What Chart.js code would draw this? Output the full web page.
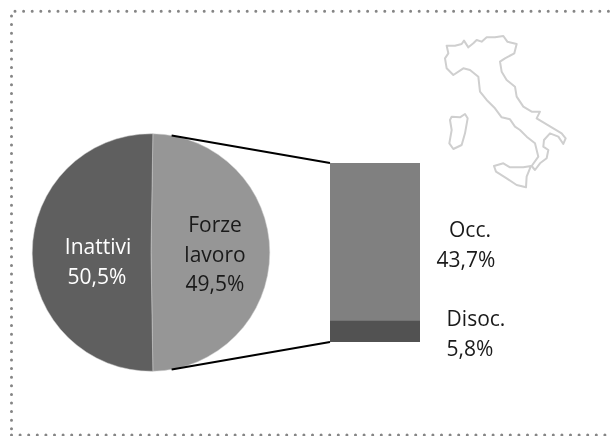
<!DOCTYPE html>
<html><head><meta charset="utf-8">
<script src="https://cdn.jsdelivr.net/npm/chart.js@4"></script>
<style>
html,body{margin:0;padding:0;background:#fff;overflow:hidden}
#wrap{position:relative;width:613px;height:436px}
#wrap canvas,#wrap svg{position:absolute;left:0;top:0}
</style></head><body>
<div id="wrap">
<svg width="613" height="436" viewBox="0 0 613 436">
<defs><filter id="soft"><feGaussianBlur stdDeviation="0.7"/></filter></defs>
<path d="M11.5 16 V435 M11.5 435 H613 M15 11.3 H613" fill="none" stroke="#858585" stroke-width="3" stroke-linecap="round" stroke-dasharray="0 8.6"/>
<g fill="none" stroke="#cfcfcf" stroke-linejoin="round" filter="url(#soft)" transform="translate(420 30) scale(.3333)">
<path d="M80 47 105 47 125 42 132 32 145 52 160 40 170 30 185 35 200 22 225 22 250 18 262 35 290 42 283 70 255 85 240 95 245 125 260 150 285 170 290 200 310 230 335 245 360 245 350 265 400 295 425 310 437 325 430 342 415 320 390 310 372 330 370 350 385 360 380 385 360 400 345 420 335 408 355 380 345 340 320 320 300 300 285 290 270 268 245 262 225 235 200 210 180 185 175 140 150 120 130 115 100 135 80 115 75 85 85 70Z" stroke-width="6"/>
<path d="M95 260 120 262 135 252 143 265 135 310 125 345 100 357 88 340 95 300 90 270Z" stroke-width="6"/>
<path d="M222 408 250 400 270 412 310 412 333 408 320 440 318 472 290 465 260 445 228 425Z" stroke-width="6"/>
</g>
</svg>
<canvas id="pie" width="613" height="436"></canvas>
<canvas id="bar" width="613" height="436"></canvas>
</div>
<script>
const pieCategories = ["Forze lavoro", "Inattivi"];
const pieValues = [49.5, 50.5];
const pieColors = ["#969696", "#5f5f5f"];
const barCategories = ["Forze lavoro"];
const disocValues = [5.8];
const occValues = [43.7];
const labelFont = '21px "Open Sans", sans-serif';

function drawText(ctx, lines){
  ctx.save();
  ctx.font = labelFont;
  ctx.textAlign = "center";
  ctx.textBaseline = "middle";
  lines.forEach(l => { ctx.fillStyle = l[3]; ctx.fillText(l[0], l[1], l[2]); });
  ctx.restore();
}

const pieChart = new Chart(document.getElementById("pie"), {
  type: "pie",
  data: { labels: pieCategories, datasets: [{ data: pieValues, backgroundColor: pieColors, borderColor: "#cfcfcf", borderWidth: 0.5 }] },
  options: {
    responsive: false, animation: false, rotation: 0.9,
    layout: { padding: { left: 32, right: 343, top: 133, bottom: 64 } },
    plugins: { legend: { display: false }, tooltip: { enabled: false } }
  },
  plugins: [{ id: "pieLabels", afterDatasetsDraw(c){
    drawText(c.ctx, [
      ["Inattivi", 98, 248, "#ffffff"], ["50,5%", 97, 278, "#ffffff"],
      ["Forze", 215, 226, "#1a1a1a"], ["lavoro", 215, 256, "#1a1a1a"], ["49,5%", 215, 285, "#1a1a1a"]
    ]);
  }}]
});

new Chart(document.getElementById("bar"), {
  type: "bar",
  data: { labels: barCategories, datasets: [
    { label: "Disoc.", data: disocValues, backgroundColor: "#525252", barPercentage: 1, categoryPercentage: 1 },
    { label: "Occ.", data: occValues, backgroundColor: "#808080", barPercentage: 1, categoryPercentage: 1 }
  ]},
  options: {
    responsive: false, animation: false,
    layout: { padding: { left: 330, right: 193, top: 163, bottom: 94 } },
    scales: {
      x: { stacked: true, display: false },
      y: { stacked: true, display: false, min: 0, max: occValues[0] + disocValues[0] }
    },
    plugins: { legend: { display: false }, tooltip: { enabled: false } }
  },
  plugins: [{ id: "connectors", afterDatasetsDraw(c){
    const ctx = c.ctx, a = c.chartArea;
    const arc = pieChart.getDatasetMeta(0).data[0];
    const r = arc.outerRadius, t = 10 * Math.PI / 180;
    const px = arc.x + r * Math.sin(t), dy = r * Math.cos(t);
    ctx.save();
    ctx.strokeStyle = "#000"; ctx.lineWidth = 2;
    ctx.beginPath();
    ctx.moveTo(px, arc.y - dy); ctx.lineTo(a.left, a.top);
    ctx.moveTo(px, arc.y + dy); ctx.lineTo(a.left, a.bottom);
    ctx.stroke();
    ctx.restore();
    drawText(ctx, [
      ["Occ.", 470, 231, "#1a1a1a"], ["43,7%", 466, 261, "#1a1a1a"],
      ["Disoc.", 476, 320, "#1a1a1a"], ["5,8%", 470, 350, "#1a1a1a"]
    ]);
  }}]
});
</script>
</body></html>
